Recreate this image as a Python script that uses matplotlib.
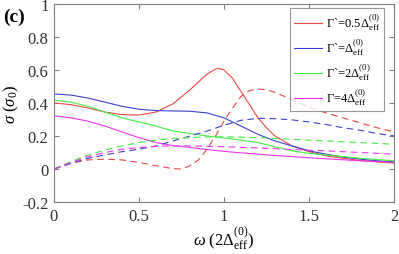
import matplotlib
matplotlib.use("Agg")
import matplotlib.pyplot as plt

serif_name = 'Liberation Serif'
plt.rcParams['font.family'] = 'serif'
plt.rcParams['font.serif'] = [serif_name, 'DejaVu Serif']
plt.rcParams['mathtext.fontset'] = 'custom'
plt.rcParams['mathtext.rm'] = serif_name
plt.rcParams['mathtext.it'] = serif_name + ':italic'
plt.rcParams['mathtext.bf'] = serif_name + ':bold'

# --- data ---
x_red_s = [0, 0.1, 0.2, 0.3, 0.4, 0.5, 0.6, 0.7, 0.8, 0.9, 0.95, 0.97, 1.0, 1.05, 1.1, 1.15, 1.2, 1.25, 1.3, 1.4, 1.5, 1.6, 1.7, 1.8, 1.9, 2.0]
y_red_s = [0.40, 0.39, 0.37, 0.345, 0.33, 0.327, 0.345, 0.395, 0.48, 0.575, 0.605, 0.61, 0.60, 0.55, 0.47, 0.39, 0.31, 0.25, 0.20, 0.14, 0.105, 0.08, 0.065, 0.052, 0.043, 0.036]
x_red_d = [0, 0.1, 0.2, 0.3, 0.4, 0.5, 0.6, 0.7, 0.75, 0.8, 0.85, 0.9, 0.95, 1.0, 1.05, 1.1, 1.15, 1.2, 1.25, 1.3, 1.4, 1.5, 1.6, 1.7, 1.8, 1.9, 2.0]
y_red_d = [0, 0.035, 0.055, 0.06, 0.055, 0.04, 0.02, 0.002, 0.0, 0.02, 0.055, 0.12, 0.20, 0.29, 0.37, 0.44, 0.475, 0.485, 0.48, 0.465, 0.42, 0.375, 0.34, 0.31, 0.28, 0.25, 0.225]

x_grid = [0, 0.1, 0.2, 0.3, 0.4, 0.5, 0.6, 0.7, 0.8, 0.9, 1.0, 1.1, 1.2, 1.3, 1.4, 1.5, 1.6, 1.7, 1.8, 1.9, 2.0]
y_blue_s = [0.455, 0.448, 0.43, 0.405, 0.38, 0.362, 0.354, 0.352, 0.35, 0.34, 0.31, 0.26, 0.21, 0.17, 0.14, 0.11, 0.09, 0.072, 0.06, 0.05, 0.044]
y_blue_d = [0, 0.035, 0.065, 0.085, 0.105, 0.12, 0.14, 0.17, 0.20, 0.23, 0.265, 0.295, 0.307, 0.305, 0.298, 0.285, 0.27, 0.25, 0.235, 0.215, 0.20]
y_green_s = [0.418, 0.405, 0.38, 0.345, 0.31, 0.285, 0.26, 0.23, 0.215, 0.20, 0.188, 0.175, 0.16, 0.135, 0.11, 0.095, 0.085, 0.075, 0.065, 0.057, 0.05]
y_green_d = [0, 0.045, 0.085, 0.115, 0.14, 0.16, 0.175, 0.185, 0.19, 0.195, 0.195, 0.193, 0.19, 0.185, 0.18, 0.175, 0.17, 0.165, 0.16, 0.155, 0.15]
y_mag_s = [0.323, 0.31, 0.29, 0.26, 0.225, 0.19, 0.16, 0.142, 0.13, 0.118, 0.107, 0.098, 0.09, 0.082, 0.075, 0.068, 0.062, 0.056, 0.05, 0.045, 0.04]
y_mag_d = [0, 0.04, 0.075, 0.10, 0.12, 0.13, 0.137, 0.14, 0.14, 0.138, 0.135, 0.131, 0.128, 0.123, 0.118, 0.114, 0.11, 0.105, 0.10, 0.095, 0.09]

labels = [r"Γ`=0.5$\Delta_{\rm eff}^{(0)}$", r"Γ`=$\Delta_{\rm eff}^{(0)}$",
          r"Γ`=2$\Delta_{\rm eff}^{(0)}$", r"Γ=4$\Delta_{\rm eff}^{(0)}$"]
colors = ['#e84848', '#4040d0', '#44ee44', '#ee33ee']

fig = plt.figure(figsize=(3.99, 2.55), dpi=100)
ax = fig.add_axes([54/399, 1-203/255, 340/399, 198/255])

lw = 0.8
ax.plot(x_red_s, y_red_s, color=colors[0], lw=lw, label=labels[0])
ax.plot(x_grid, y_blue_s, color=colors[1], lw=lw, label=labels[1])
ax.plot(x_grid, y_green_s, color=colors[2], lw=lw, label=labels[2])
ax.plot(x_grid, y_mag_s, color=colors[3], lw=lw, label=labels[3])
dash = (0, (6, 4))
ax.plot(x_red_d, y_red_d, color=colors[0], lw=lw, ls=dash)
ax.plot(x_grid, y_blue_d, color=colors[1], lw=lw, ls=dash)
ax.plot(x_grid, y_green_d, color=colors[2], lw=lw, ls=dash)
ax.plot(x_grid, y_mag_d, color=colors[3], lw=lw, ls=dash)

ax.set_xlim(0, 2)
ax.set_ylim(-0.2, 1)
ax.set_xticks([0, 0.5, 1, 1.5, 2])
ax.set_xticklabels(['0', '0.5', '1', '1.5', '2'])
ax.set_yticks([-0.2, 0, 0.2, 0.4, 0.6, 0.8, 1])
ax.set_yticklabels(['-0.2', '0', '0.2', '0.4', '0.6', '0.8', '1'])
gray = '#808080'
for s in ax.spines.values():
    s.set_color(gray)
    s.set_linewidth(0.8)
ax.tick_params(direction='in', top=True, right=True, length=3.5, width=0.8,
               color=gray, labelsize=12, labelcolor='#333333', pad=4)

ax.set_xlabel(r"$\omega$ (2$\Delta_{\rm eff}^{(0)}$)", fontsize=12, labelpad=1)
ax.set_ylabel(r"$\sigma$ ($\sigma_0$)", fontsize=12, labelpad=1)

leg = ax.legend(loc='upper right', bbox_to_anchor=(0.97, 0.978), fontsize=9,
                frameon=True, fancybox=False, edgecolor=gray, handlelength=2.3,
                handletextpad=0.3, borderpad=0.3, labelspacing=0.38, borderaxespad=0)
leg.get_frame().set_linewidth(0.8)

fig.text(3/399, 1-22/255, "(c)", fontsize=14, fontweight='bold')

fig.savefig("out.png", dpi=100)
